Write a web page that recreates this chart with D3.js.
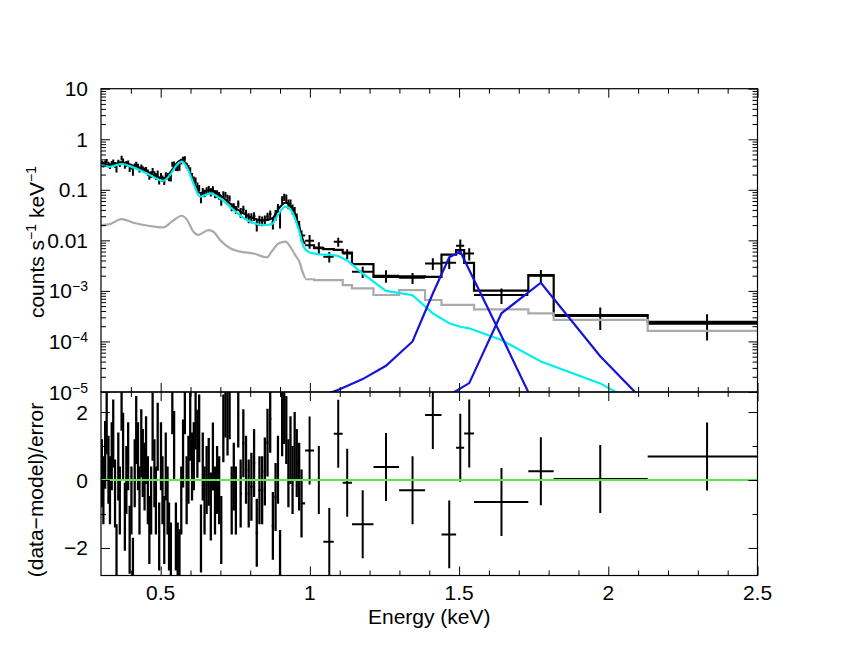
<!DOCTYPE html>
<html>
<head>
<meta charset="utf-8">
<script src="https://cdn.jsdelivr.net/npm/d3@7"></script>
<style>
  body { margin: 0; background: #fff; }
  text { font-family: "Liberation Sans", Arial, sans-serif; fill: #000; }
</style>
</head>
<body>
<svg id="chart" width="859" height="664"></svg>
<script>
// dense low-energy bins (centres, keV)
const denseE = [0.303,0.308,0.314,0.319,0.325,0.330,0.336,0.341,0.347,0.352,0.358,0.363,0.369,0.374,0.380,0.385,0.391,0.396,0.402,0.407,0.413,0.418,0.424,0.429,0.435,0.440,0.446,0.451,0.457,0.462,0.468,0.473,0.479,0.484,0.490,0.495,0.501,0.506,0.512,0.517,0.523,0.528,0.534,0.539,0.545,
  0.551,0.557,0.563,0.569,0.575,0.581,0.587,0.593,0.599,0.605,0.611,0.617,0.623,0.629,0.635,0.641,0.647,0.654,0.661,0.668,0.675,0.682,0.689,0.696,0.703,0.710,0.717,0.724,0.731,0.738,0.745,0.752,
  0.760,0.768,0.777,0.786,0.795,0.804,0.813,0.822,0.831,0.840,0.849,0.858,0.867,0.876,0.885,0.893,0.900,0.907,0.914,0.921,0.928,0.935,0.942,0.949,0.956,0.964,0.972];
const denseRate = [.335,.316,.341,.366,.319,.298,.333,.358,.313,.262,.349,.324,.427,.373,.302,.328,.341,.264,.290,.228,.297,.323,.293,.254,.285,.262,.245,.254,.221,.189,.202,.242,.206,.184,.214,.153,.189,.167,.149,.196,.188,.176,.178,.321,.320,
  .276,.276,.285,.364,.401,.418,.304,.275,.251,.187,.158,.154,.121,.109,.069,.094,.086,.096,.102,.091,.102,.083,.084,.077,.061,.082,.080,.070,.068,.046,.0468,.0404,
  .053,.0357,.0407,.0334,.0282,.0281,.0301,.0207,.0250,.0242,.0259,.0297,.0333,.0227,.0322,.043,.0272,.0636,.0718,.068,.0526,.0536,.042,.0383,.0281,.0198,.0125];
const denseErr = [.042,.041,.041,.039,.039,.039,.039,.041,.041,.042,.042,.043,.045,.043,.042,.042,.041,.039,.039,.038,.036,.036,.035,.034,.032,.032,.031,.029,.032,.031,.031,.029,.028,.028,.027,.025,.025,.024,.025,.027,.028,.029,.032,.036,.041,
  .041,.043,.046,.049,.048,.043,.039,.034,.028,.029,.025,.021,.018,.015,.0146,.015,.015,.016,.017,.017,.015,.015,.014,.0134,.0125,.0116,.0106,.0098,.0091,.0084,.0077,.0073,
  .0087,.008,.0074,.0067,.0063,.0062,.0059,.0057,.0055,.0053,.0052,.0053,.0055,.0064,.0078,.0092,.0101,.0112,.012,.0123,.0115,.0105,.0094,.0074,.0059,.0043,.0031];
const denseRes = [.2,-.3,.74,1.76,.3,-.3,.7,1.37,-.4,-2.3,.4,-.6,2.45,.98,-1.08,0,.7,-1.76,-.6,-2.7,.2,1.47,.7,-.6,1.08,.5,.1,.88,-.3,-1.47,-.6,1.57,.2,-.6,1.27,-1.66,.7,-.3,-1.47,.4,-.6,-1.66,-2.25,2.35,1.03,
  -1.66,-2.25,-2.45,-.6,.78,2.35,-.3,.3,1.57,.4,.7,1.9,1.07,1.52,-1.72,.4,-.6,0,.24,-.78,.69,-.6,0,-.3,-1.47,1.52,2.25,1.72,2.2,-.6,.1,-.6,
  1.96,-.4,1.08,.3,-.4,-.2,.5,-1.55,-.3,-.3,.25,1.1,1.8,-1.35,-.5,.3,-2.47,1.7,2.06,1.47,.2,.88,0,1.0,.5,.1,-.69];

// wide bins above 1 keV
const binLo = [0.984,1.014,1.045,1.080,1.110,1.141,1.213,1.299,1.386,1.441,1.490,1.517,1.550,1.732,1.817,2.132];
const binHi = [1.014,1.045,1.080,1.110,1.141,1.213,1.299,1.386,1.441,1.490,1.517,1.550,1.732,1.817,2.132,2.500];
const binE = [0.999,1.030,1.065,1.095,1.125,1.177,1.255,1.344,1.412,1.467,1.504,1.534,1.642,1.774,1.973,2.331];
const binRate = [.0098,.0072,.00475,.0094,.0055,.0024,.0020,.00182,.0035,.0036,.0078,.0055,.00083,.0020,.000318,.000225];
const binErr = [.0030,.0020,.0011,.0019,.0012,.0006,.00055,.00045,.0009,.0009,.0026,.0015,.00028,.0006,.00015,.00012];
const binRes = [.87,0,-1.82,1.36,-.08,-1.3,.38,-.3,1.91,-1.6,.95,1.37,-.65,.26,.03,.69];
const binModel = [.0080,.0070,.0067,.0065,.0057,.0034,.0019,.00195,.0019,.0052,.0064,.0036,.00101,.00205,.000333,.000243];
const binGray = [.0017,.00164,.00164,.00164,.0013,.00112,.00083,.00104,.00066,.00053,.00053,.00053,.00043,.00036,.000266,.000162];

// total model below 1 keV
const modelE = [.300,.330,.369,.408,.453,.509,.531,.554,.571,.587,.610,.632,.666,.699,.744,.789,.845,.873,.896,.918,.940,.963,.979,.984];
const modelV = [.330,.307,.350,.300,.232,.169,.218,.337,.391,.312,.149,.0865,.1007,.0782,.0466,.0311,.0249,.027,.043,.0557,.0439,.020,.0095,.0085];

// components
const cyanE = [.300,.330,.369,.408,.453,.509,.531,.554,.571,.587,.610,.632,.666,.699,.744,.789,.845,.873,.896,.918,.940,.963,.979,.999,1.030,1.065,1.095,1.125,1.177,1.255,1.344,1.412,1.467,1.504,1.534,1.642,1.774,1.973,2.331];
const cyanV = [.31,.286,.324,.278,.212,.151,.196,.31,.36,.286,.134,.073,.085,.068,.040,.0253,.0201,.021,.0343,.0463,.0369,.016,.0075,.0057,.0053,.0052,.0049,.0040,.0022,.00100,.00082,.00036,.000229,.000195,.000182,.000107,.000040,.0000148,.000001];
const grayE = [.300,.330,.369,.408,.464,.509,.537,.571,.587,.610,.626,.660,.677,.699,.733,.766,.811,.856,.872,.895,.918,.934,.951,.967,.973,.984];
const grayV = [.020,.021,.0264,.0223,.0192,.0181,.0234,.0307,.026,.0148,.0128,.016,.0148,.0102,.0070,.0060,.0055,.0046,.0060,.0087,.0094,.0075,.0051,.0035,.0026,.00178];
const line1E = [1.03,1.10,1.177,1.255,1.344,1.412,1.467,1.504,1.534,1.642,1.774];
const line1V = [8e-6,1.13e-5,1.8e-5,3.3e-5,1.0e-4,8.9e-4,.0046,.0060,.0026,1.28e-4,3e-6];
const line2E = [1.467,1.534,1.642,1.774,1.973,2.331];
const line2V = [8.7e-6,1.5e-5,3.6e-4,1.45e-3,5.1e-5,3.4e-7];

// axes ticks / labels
const xMajor = [0.5, 1, 1.5, 2, 2.5];
const xMinor = [0.4,0.6,0.7,0.8,0.9,1.1,1.2,1.3,1.4,1.6,1.7,1.8,1.9,2.1,2.2,2.3,2.4];
const xLabels = ["0.5", "1", "1.5", "2", "2.5"];
const topTickVals = [10, 1, 0.1, 0.01, 1e-3, 1e-4, 1e-5];
const topTickMain = ["10", "1", "0.1", "0.01", "10", "10", "10"];
const topTickSup = ["", "", "", "", "\u22123", "\u22124", "\u22125"];
const resMajor = [-2, 0, 2];
const resMinor = [-1, 1];
const resLabels = ["\u22122", "0", "2"];

const svg = d3.select("#chart");
const x = d3.scaleLinear().domain([0.3, 2.5]).range([101, 757.5]);
const yTop = d3.scaleLog().domain([1e-5, 10]).range([392, 88.7]);
const yRes = d3.scaleLinear().domain([-2.81, 2.59]).range([575.5, 392]);

const defs = svg.append("defs");
defs.append("clipPath").attr("id", "clipTop").append("rect")
  .attr("x", x(0.3)).attr("y", yTop(10)).attr("width", x(2.5) - x(0.3)).attr("height", yTop(1e-5) - yTop(10));
defs.append("clipPath").attr("id", "clipRes").append("rect")
  .attr("x", x(0.3)).attr("y", yRes(2.59)).attr("width", x(2.5) - x(0.3)).attr("height", yRes(-2.81) - yRes(2.59));

// bin edges of the dense part from neighbouring centres
const dense = denseE.map((e, i) => ({
  e,
  lo: i === 0 ? 0.3 : (denseE[i - 1] + e) / 2,
  hi: i === denseE.length - 1 ? binLo[0] : (e + denseE[i + 1]) / 2,
  rate: denseRate[i], err: denseErr[i], res: denseRes[i], w: 2.3
}));
const wide = binE.map((e, i) => ({
  e, lo: binLo[i], hi: binHi[i], rate: binRate[i], err: binErr[i], res: binRes[i],
  model: binModel[i], gray: binGray[i], w: 2
}));
const allBins = dense.concat(wide);

const gTop = svg.append("g").attr("clip-path", "url(#clipTop)");
const gRes = svg.append("g").attr("clip-path", "url(#clipRes)");

const safe = v => Math.max(v, 1e-7);

// data crosses (top)
gTop.append("g").selectAll("path").data(allBins).join("path")
  .attr("d", d => `M${x(d.lo)},${yTop(d.rate)}H${x(d.hi)}M${x(d.e)},${yTop(safe(d.rate - d.err))}V${yTop(d.rate + d.err)}`)
  .attr("stroke", "#000").attr("stroke-width", 2).attr("fill", "none");

// total model
gTop.append("path").datum(modelE.map((e, i) => [e, modelV[i]]))
  .attr("d", d3.line().x(d => x(d[0])).y(d => yTop(d[1])).curve(d3.curveMonotoneX))
  .attr("stroke", "#000").attr("stroke-width", 2).attr("fill", "none");
const stepPts = k => wide.map(d => [d.lo, d[k]]).concat([[wide[wide.length - 1].hi, wide[wide.length - 1][k]]]);
gTop.append("path").datum(stepPts("model"))
  .attr("d", d3.line().x(d => x(d[0])).y(d => yTop(d[1])).curve(d3.curveStepAfter))
  .attr("stroke", "#000").attr("stroke-width", 2.2).attr("fill", "none");

// grey component
gTop.append("path").datum(grayE.map((e, i) => [e, grayV[i]]))
  .attr("d", d3.line().x(d => x(d[0])).y(d => yTop(d[1])).curve(d3.curveMonotoneX))
  .attr("stroke", "#aaaaaa").attr("stroke-width", 2.2).attr("fill", "none");
gTop.append("path").datum(stepPts("gray"))
  .attr("d", d3.line().x(d => x(d[0])).y(d => yTop(d[1])).curve(d3.curveStepAfter))
  .attr("stroke", "#aaaaaa").attr("stroke-width", 2.2).attr("fill", "none");

// cyan component: smooth below 1 keV, straight segments above
const cyanPts = cyanE.map((e, i) => [e, cyanV[i]]);
gTop.append("path").datum(cyanPts.filter(d => d[0] <= 0.999))
  .attr("d", d3.line().x(d => x(d[0])).y(d => yTop(d[1])).curve(d3.curveMonotoneX))
  .attr("stroke", "#00eeee").attr("stroke-width", 2.2).attr("fill", "none");
gTop.append("path").datum(cyanPts.filter(d => d[0] >= 0.999))
  .attr("d", d3.line().x(d => x(d[0])).y(d => yTop(d[1])))
  .attr("stroke", "#00eeee").attr("stroke-width", 2.2).attr("fill", "none");

// gaussian lines
[[line1E, line1V], [line2E, line2V]].forEach(([E, V]) => {
  gTop.append("path").datum(E.map((e, i) => [e, V[i]]))
    .attr("d", d3.line().x(d => x(d[0])).y(d => yTop(d[1])))
    .attr("stroke", "#1414dc").attr("stroke-width", 2.2).attr("fill", "none");
});

// residuals
gRes.append("g").selectAll("path").data(allBins).join("path")
  .attr("d", d => `M${x(d.lo)},${yRes(d.res)}H${x(d.hi)}M${x(d.e)},${yRes(d.res - 1)}V${yRes(d.res + 1)}`)
  .attr("stroke", "#000").attr("stroke-width", d => d.w).attr("fill", "none");
gRes.append("line")
  .attr("x1", x(0.3)).attr("x2", x(2.5)).attr("y1", yRes(0)).attr("y2", yRes(0))
  .attr("stroke", "#55e855").attr("stroke-width", 1.8);

// frames
const panelsY = [[yTop(10), yTop(1e-5)], [yRes(2.59), yRes(-2.81)]];
panelsY.forEach(([y0, y1]) => {
  svg.append("rect").attr("x", x(0.3)).attr("y", y0)
    .attr("width", x(2.5) - x(0.3)).attr("height", y1 - y0)
    .attr("fill", "none").attr("stroke", "#000").attr("stroke-width", 1.2);
});

// ticks
function ticks(axis, tx, ty) {
  const g = svg.append("g").attr("transform", `translate(${tx},${ty})`).call(axis);
  g.select(".domain").remove();
  g.selectAll("line").attr("stroke", "#000").attr("stroke-width", 1);
}
panelsY.forEach(([y0, y1]) => {
  ticks(d3.axisBottom(x).tickValues(xMajor).tickSize(-9).tickFormat(""), 0, y1);
  ticks(d3.axisBottom(x).tickValues(xMinor).tickSize(-5).tickFormat(""), 0, y1);
  ticks(d3.axisTop(x).tickValues(xMajor).tickSize(-9).tickFormat(""), 0, y0);
  ticks(d3.axisTop(x).tickValues(xMinor).tickSize(-5).tickFormat(""), 0, y0);
});
const logAll = yTop.ticks();
const logMajor = logAll.filter(v => Math.abs(Math.log10(v) - Math.round(Math.log10(v))) < 1e-6);
const logMinor = logAll.filter(v => !logMajor.includes(v));
[[d3.axisLeft, x(0.3)], [d3.axisRight, x(2.5)]].forEach(([ax, tx]) => {
  ticks(ax(yTop).tickValues(logMajor).tickSize(-9).tickFormat(""), tx, 0);
  ticks(ax(yTop).tickValues(logMinor).tickSize(-5).tickFormat(""), tx, 0);
  ticks(ax(yRes).tickValues(resMajor).tickSize(-9).tickFormat(""), tx, 0);
  ticks(ax(yRes).tickValues(resMinor).tickSize(-5).tickFormat(""), tx, 0);
});

// tick labels
const fs = 21;
topTickVals.forEach((v, i) => {
  const t = svg.append("text").attr("x", 88).attr("y", yTop(v) + 7.5)
    .attr("text-anchor", "end").attr("font-size", fs).text(topTickMain[i]);
  if (topTickSup[i]) t.append("tspan").attr("font-size", 14).attr("dy", -7).text(topTickSup[i]);
});
resMajor.forEach((v, i) => {
  svg.append("text").attr("x", 88).attr("y", yRes(v) + 7.5)
    .attr("text-anchor", "end").attr("font-size", fs).text(resLabels[i]);
});
xMajor.forEach((v, i) => {
  svg.append("text").attr("x", x(v)).attr("y", 600)
    .attr("text-anchor", "middle").attr("font-size", fs).text(xLabels[i]);
});

// axis titles
svg.append("text").attr("x", x(1.4)).attr("y", 624)
  .attr("text-anchor", "middle").attr("font-size", fs).text("Energy (keV)");
const yt = svg.append("text").attr("transform", "translate(44,242) rotate(-90)")
  .attr("text-anchor", "middle").attr("font-size", fs);
yt.append("tspan").text("counts s");
yt.append("tspan").attr("font-size", 14).attr("dy", -8).text("\u22121");
yt.append("tspan").attr("dy", 8).text(" keV");
yt.append("tspan").attr("font-size", 14).attr("dy", -8).text("\u22121");
svg.append("text").attr("transform", "translate(43,490) rotate(-90)")
  .attr("text-anchor", "middle").attr("font-size", fs).text("(data\u2212model)/error");
</script>
</body>
</html>
